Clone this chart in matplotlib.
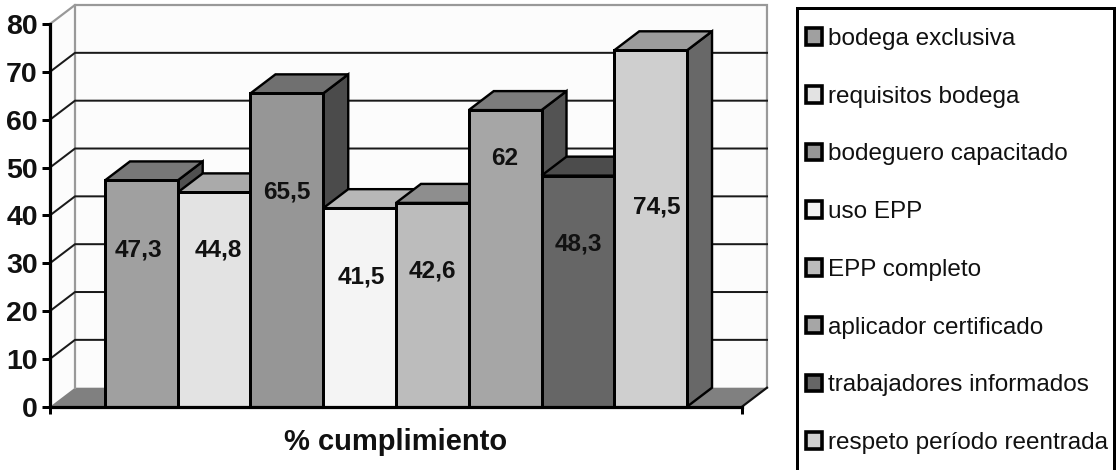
import matplotlib
matplotlib.use("Agg")
import matplotlib.pyplot as plt
from matplotlib.patches import Polygon, Rectangle

plt.rcParams['font.family'] = ['Liberation Sans', 'DejaVu Sans']

categories = ["bodega exclusiva", "requisitos bodega", "bodeguero capacitado", "uso EPP",
              "EPP completo", "aplicador certificado", "trabajadores informados",
              "respeto período reentrada"]
values = [47.3, 44.8, 65.5, 41.5, 42.6, 62, 48.3, 74.5]
value_labels = ["47,3", "44,8", "65,5", "41,5", "42,6", "62", "48,3", "74,5"]
label_heights = [32.8, 32.8, 44.9, 27.1, 28.3, 51.8, 34.0, 41.8]
label_shifts = [-0.04, 0.06, 0.0, 0.02, 0.0, 0.0, 0.0, 0.08]
front_colors = ["#a0a0a0", "#e3e3e3", "#969696", "#f4f4f4", "#bcbcbc", "#a6a6a6", "#666666", "#cfcfcf"]
top_colors = ["#787878", "#aaaaaa", "#707070", "#b7b7b7", "#8e8e8e", "#7c7c7c", "#4c4c4c", "#9c9c9c"]
side_colors = ["#505050", "#727272", "#4b4b4b", "#7a7a7a", "#5e5e5e", "#535353", "#333333", "#686868"]
y_ticks = [0, 10, 20, 30, 40, 50, 60, 70, 80]

W, H = 1120, 470
px = 0.72  # points per pixel at dpi 100
fig = plt.figure(figsize=(W / 100, H / 100), dpi=100, facecolor="white")
ax = fig.add_axes([50 / W, (H - 406.7) / H, 692 / W, 382.7 / H])
ax.patch.set_visible(False)

unit_x = 72.8
margin = 55 / unit_x
x0, x1 = -0.5 - margin, len(values) - 0.5 + margin
ax.set_xlim(x0, x1)
ax.set_ylim(0, 80)
ddx = 25 / unit_x
ddy = 19 / (382.7 / 80)

# walls and floor
ax.add_patch(Polygon([(x0, 0), (x0 + ddx, ddy), (x1 + ddx, ddy), (x1 + ddx, 80 + ddy),
                      (x0 + ddx, 80 + ddy), (x0, 80)], closed=True, fc="#fcfcfc", ec="none",
                     clip_on=False, zorder=0.5))
ax.add_patch(Polygon([(x0, 0), (x0 + ddx, ddy), (x1 + ddx, ddy), (x1, 0)], closed=True,
                     fc="#808080", ec="none", clip_on=False, zorder=0.6))
grey = "#999999"
ax.plot([x0, x0 + ddx, x1 + ddx, x1 + ddx], [80, 80 + ddy, 80 + ddy, ddy], color=grey,
        lw=2.2 * px, clip_on=False, zorder=0.7, solid_joinstyle="miter")
ax.plot([x0 + ddx, x0 + ddx], [ddy, 80 + ddy], color=grey, lw=2.2 * px, clip_on=False, zorder=0.7)
for t in y_ticks[1:-1]:
    ax.plot([x0, x0 + ddx, x1 + ddx], [t, t + ddy, t + ddy], color="#1a1a1a", lw=2 * px,
            clip_on=False, zorder=0.8)
ax.plot([x1, x1 + ddx], [0, ddy], color="#111111", lw=2.2 * px, clip_on=False, zorder=0.8)

# bars with extruded top and side faces, painted left to right
for i, v in enumerate(values):
    z = 2 + i * 0.1
    l, r = i - 0.5, i + 0.5
    ax.add_patch(Polygon([(r, 0), (r + ddx, ddy), (r + ddx, v + ddy), (r, v)], closed=True,
                         fc=side_colors[i], ec="black", lw=2.4 * px, clip_on=False, zorder=z,
                         joinstyle="miter"))
    ax.add_patch(Polygon([(l, v), (l + ddx, v + ddy), (r + ddx, v + ddy), (r, v)], closed=True,
                         fc=top_colors[i], ec="black", lw=2.4 * px, clip_on=False, zorder=z + 0.01,
                         joinstyle="miter"))
    ax.bar(i, v, width=1.0, color=front_colors[i], edgecolor="black", linewidth=3 * px,
           zorder=z + 0.02, clip_on=False, label=categories[i])

for i, lab in enumerate(value_labels):
    ax.text(i + label_shifts[i], label_heights[i], lab, ha="center", va="center",
            fontsize=17.6, fontweight="bold", color="#111111", zorder=10)

for side in ("top", "right"):
    ax.spines[side].set_visible(False)
for side in ("left", "bottom"):
    ax.spines[side].set_linewidth(3.2 * px)
    ax.spines[side].set_zorder(8)

ax.set_yticks(y_ticks)
ax.set_yticklabels([str(t) for t in y_ticks], fontsize=20.5, fontweight="bold", color="#111111")
ax.set_xticks([x0, x1])
ax.set_xticklabels(["", ""])
ax.tick_params(axis="y", length=8 * px, width=3 * px, pad=3)
ax.tick_params(axis="x", length=7 * px, width=3 * px)
ax.set_xlabel("% cumplimiento", fontsize=21, fontweight="bold", color="#111111", labelpad=7)

# legend
fig.add_artist(Rectangle((797 / W, (H - 485) / H), 317 / W, 477 / H, transform=fig.transFigure,
                         fc="white", ec="black", lw=3 * px, zorder=0))
handles, labels = ax.get_legend_handles_labels()
leg = fig.legend(handles, labels, loc="upper left", bbox_to_anchor=(805.5 / W, (H - 28) / H),
                 frameon=False, fontsize=17.5, borderpad=0, borderaxespad=0,
                 handlelength=0.68, handleheight=0.68, handletextpad=0.24, labelspacing=1.47)
for h in leg.legend_handles:
    h.set_linewidth(3.6 * px)
    h.set_edgecolor("black")
for t in leg.get_texts():
    t.set_color("#111111")

fig.savefig("out.png", dpi=100)
